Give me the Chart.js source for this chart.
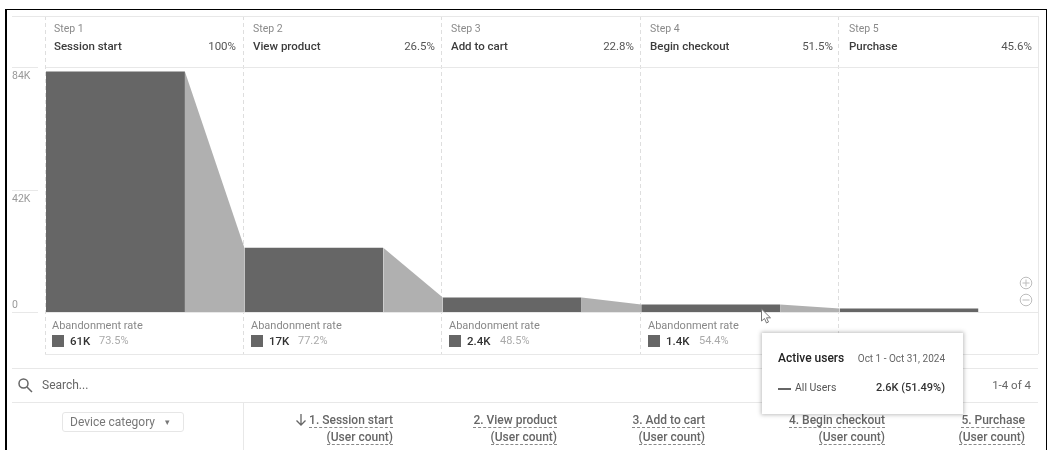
<!DOCTYPE html>
<html>
<head>
<meta charset="utf-8">
<script src="https://cdn.jsdelivr.net/npm/chart.js@4"></script>
<style>
  html, body { margin: 0; padding: 0; background: #fff; }
  body { width: 1049px; height: 450px; position: relative; overflow: hidden; font-family: Roboto, sans-serif; color: #444; filter: blur(0.35px); }
  #funnel { position: absolute; left: 0; top: 0; }
  .abs { position: absolute; white-space: nowrap; line-height: 14px; }
  .line { position: absolute; background: #e8e8e8; }
  .frame { position: absolute; background: #000; }
  .swatch { position: absolute; width: 12px; height: 12px; background: #666; }
  .colhead { position: absolute; text-align: right; font-size: 12px; font-weight: 500; color: #666; line-height: 17px; white-space: nowrap; }
  .colhead span { border-bottom: 1px dashed #888; }
  #btn { position: absolute; left: 62px; top: 412px; width: 122px; height: 20px; border: 1px solid #e6e6e6; border-radius: 3px; box-sizing: border-box; font-size: 12px; color: #777; line-height: 18px; padding-left: 7px; }
  #btn span { position: absolute; left: 102px; top: 0; font-size: 9px; }
  #tip { position: absolute; left: 762px; top: 333px; width: 201px; height: 81px; background: #fff; box-shadow: 0 0 4px 1px rgba(0,0,0,.25); }
</style>
</head>
<body>
<canvas id="funnel" width="1049" height="450"></canvas>
<div id="page"></div>
<script>
// Funnel data
const stepNames = ["Session start", "View product", "Add to cart", "Begin checkout", "Purchase"];
const stepRates = ["100%", "26.5%", "22.8%", "51.5%", "45.6%"];
const users = [82500, 22000, 5000, 2600, 1200];
const abandonCounts = ["61K", "17K", "2.4K", "1.4K"];
const abandonRates = ["73.5%", "77.2%", "48.5%", "54.4%"];
const yTicks = [0, 42000, 84000];
const yTickLabels = ["0", "42K", "84K"];
const columnTitles = ["1. Session start", "2. View product", "3. Add to cart", "4. Begin checkout", "5. Purchase"];

const barShare = 0.7;

// Each step is one filled bar, followed by a wedge down to the next step
const datasets = [];
users.forEach((v, i) => {
  datasets.push({
    data: [{ x: i, y: v }, { x: i + barShare, y: v }],
    backgroundColor: "#666666",
    fill: "origin",
    borderWidth: 0,
    pointRadius: 0
  });
  if (i < users.length - 1) {
    datasets.push({
      data: [{ x: i + barShare, y: v }, { x: i + 1, y: users[i + 1] }],
      backgroundColor: "#b0b0b0",
      fill: "origin",
      borderWidth: 0,
      pointRadius: 0
    });
  }
});

// Dashed step dividers, y axis ticks and the long rules
const funnelFrame = {
  id: "funnelFrame",
  beforeDatasetsDraw(chart) {
    const ctx = chart.ctx;
    const x = chart.scales.x;
    const y = chart.scales.y;
    ctx.save();
    ctx.strokeStyle = "#dedede";
    ctx.lineWidth = 1;
    ctx.setLineDash([4, 3]);
    stepNames.forEach((n, i) => {
      const px = Math.floor(x.getPixelForValue(i)) - 0.5;
      ctx.beginPath();
      ctx.moveTo(px, 16);
      ctx.lineTo(px, 354);
      ctx.stroke();
    });
    ctx.setLineDash([]);
    ctx.strokeStyle = "#e8e8e8";
    ctx.fillStyle = "#999";
    ctx.font = "10.5px Roboto";
    ctx.textBaseline = "middle";
    yTicks.forEach((t, i) => {
      const py = Math.round(y.getPixelForValue(t)) + 0.5;
      ctx.beginPath();
      ctx.moveTo(12, py);
      ctx.lineTo(38, py);
      ctx.stroke();
      ctx.fillText(yTickLabels[i], 12, py + (t === 0 ? -7 : 9));
    });
    [0, 84000].forEach(t => {
      const py = Math.round(y.getPixelForValue(t)) + 0.5;
      ctx.beginPath();
      ctx.moveTo(x.left, py);
      ctx.lineTo(x.right, py);
      ctx.stroke();
    });
    ctx.restore();
  }
};

new Chart(document.getElementById("funnel"), {
  type: "line",
  data: { datasets },
  plugins: [funnelFrame],
  options: {
    responsive: false,
    animation: false,
    layout: { padding: { left: 46, top: 67, right: 11, bottom: 138 } },
    plugins: { legend: { display: false }, tooltip: { enabled: false } },
    scales: {
      x: { type: "linear", min: 0, max: stepNames.length, display: false },
      y: { min: 0, max: 84000, display: false }
    }
  }
});

// Text and page furniture around the chart
const page = document.getElementById("page");
const stepLefts = [45, 244, 442, 641, 840];
const stepRights = [236, 435, 634, 833, 1032];
const colRights = [393, 557, 705, 885, 1025];

function addText(text, left, top, size, color, weight, right) {
  const d = document.createElement("div");
  d.className = "abs";
  d.textContent = text;
  d.style.top = top + "px";
  d.style.fontSize = size + "px";
  d.style.color = color;
  if (weight) d.style.fontWeight = weight;
  if (right !== undefined) d.style.right = (1049 - right) + "px";
  else d.style.left = left + "px";
  page.appendChild(d);
  return d;
}

function addBox(cls, l, t, w, h) {
  const d = document.createElement("div");
  d.className = cls;
  d.style.cssText = `left:${l}px;top:${t}px;width:${w}px;height:${h}px`;
  page.appendChild(d);
}

// outer frame of the screenshot
addBox("frame", 5, 9, 2, 441);
addBox("frame", 5, 9, 1042, 1);
addBox("frame", 1046, 9, 1, 441);

// rules
addBox("line", 12, 16, 1026, 1);
addBox("line", 1038, 16, 1, 338);
addBox("line", 45, 354, 993, 1);
addBox("line", 12, 368, 1026, 1);
addBox("line", 12, 402, 1026, 1);
addBox("line", 243, 402, 1, 48);

stepNames.forEach((name, i) => {
  addText("Step " + (i + 1), stepLefts[i] + 9, 22, 10.5, "#8a8a8a");
  addText(name, stepLefts[i] + 9, 39, 11.5, "#3c3c3c", 500);
  addText(stepRates[i], 0, 39, 11.5, "#555", 400, stepRights[i]);
});

abandonCounts.forEach((count, i) => {
  const left = stepLefts[i] + 7;
  addText("Abandonment rate", left, 319, 11, "#888");
  addBox("swatch", left, 335, 12, 12);
  const c = addText(count, left + 18, 334, 11.5, "#333", 500);
  addText(abandonRates[i], left + 18 + c.offsetWidth + 9, 334, 11, "#aaa");
});

// search row
addText("Search...", 42, 378, 12, "#666");
addText("1-4 of 4", 0, 378, 11.5, "#666", 400, 1031);
page.insertAdjacentHTML("beforeend", `
  <svg class="abs" style="left:17px;top:377px" width="16" height="16" viewBox="0 0 16 16" fill="none" stroke="#666" stroke-width="1.5">
    <circle cx="6.5" cy="6.5" r="4.5"/><path d="M10 10l5 5"/>
  </svg>
  <div id="btn">Device category<span>&#9662;</span></div>
  <svg class="abs" style="left:1019px;top:276px" width="14" height="32" viewBox="0 0 14 32" fill="none" stroke="#bdbdbd" stroke-width="1">
    <circle cx="7" cy="7" r="5.8"/><path d="M3.5 7h7M7 3.5v7"/>
    <circle cx="7" cy="24" r="5.8"/><path d="M3.5 24h7"/>
  </svg>
  <svg class="abs" style="left:295px;top:413px" width="12" height="14" viewBox="0 0 12 14" fill="none" stroke="#666" stroke-width="1.3">
    <path d="M6 1v11M1.5 7.5L6 12l4.5-4.5"/>
  </svg>
`);

// table header
columnTitles.forEach((title, i) => {
  const d = document.createElement("div");
  d.className = "colhead";
  d.style.right = (1049 - colRights[i]) + "px";
  d.style.top = "412px";
  d.innerHTML = `<span>${title}</span><br><span>(User count)</span>`;
  page.appendChild(d);
});

// hover tooltip and cursor, as captured in the screenshot
page.insertAdjacentHTML("beforeend", `
  <div id="tip"></div>
  <svg class="abs" style="left:760px;top:308px" width="14" height="18" viewBox="0 0 14 18" fill="#fff" stroke="#777" stroke-width="1">
    <path d="M1.5 1v12l3-2.5 2 4.5 2-1-2-4.2h4z"/>
  </svg>
`);
addText("Active users", 778, 351, 12, "#222", 500);
addText("Oct 1 - Oct 31, 2024", 0, 352, 10, "#666", 400, 945);
addBox("swatch", 778, 388, 13, 2);
addText("All Users", 795, 381, 10.5, "#555");
addText("2.6K (51.49%)", 0, 381, 11, "#333", 500, 945);
</script>
</body>
</html>
